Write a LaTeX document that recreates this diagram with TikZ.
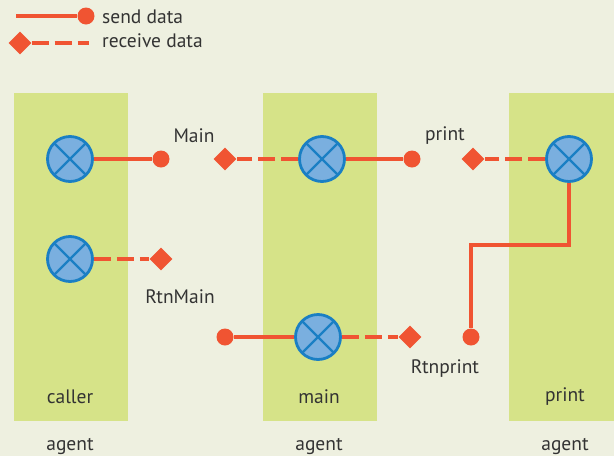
\documentclass[tikz,border=0pt]{standalone}
\usepackage{fontspec}
\setmainfont{PT Sans}
\usetikzlibrary{shapes.geometric}
\definecolor{bg}{HTML}{EEF0E0}
\definecolor{band}{HTML}{D6E388}
\definecolor{wire}{HTML}{F05432}
\definecolor{ballfill}{HTML}{7AAFDF}
\definecolor{ballline}{HTML}{1A7FC4}
\definecolor{ink}{HTML}{333333}
\tikzset{
  x=1pt, y=-1pt,
  lbl/.style={text=ink, font=\fontsize{19.5}{21}\selectfont, inner sep=0pt},
  ball/.style={circle, draw=ballline, fill=ballfill, line width=2.8pt, minimum size=45pt, inner sep=0pt,
    path picture={
      \draw[ballline, line width=2.4pt]
        (path picture bounding box.south west) -- (path picture bounding box.north east)
        (path picture bounding box.north west) -- (path picture bounding box.south east);}},
  dot/.style={circle, fill=wire, minimum size=17pt, inner sep=0pt},
  gem/.style={diamond, fill=wire, minimum size=23pt, inner sep=0pt},
  send/.style={draw=wire, line width=4pt},
  recv/.style={draw=wire, line width=4pt, dash pattern=on 17pt off 6pt},
}
\begin{document}
\begin{tikzpicture}
  \fill[bg] (0,0) rectangle (614,456);
  \useasboundingbox (0,0) rectangle (614,456);
  % agent bands
  \fill[band] (14,93) rectangle (128,421);
  \fill[band] (263,93) rectangle (377,421);
  \fill[band] (509,93) rectangle (614,421);

  % legend
  \coordinate (ls) at (16,16);
  \node[dot] (ld) at (86,16) {};
  \draw[send] (ls) -- (ld);
  \node[lbl, anchor=west] (lt1) at (102,17) {send data};
  \node[gem] (lg) at (20,43) {};
  \coordinate (le) at (89,43);
  \draw[recv] (lg) -- (le);
  \node[lbl, anchor=west] (lt2) at (102,41) {receive data};

  % ports
  \node[ball] (c1) at (70,159) {};
  \node[ball] (c2) at (70,259) {};
  \node[ball] (m1) at (322,159) {};
  \node[ball] (m2) at (318,337) {};
  \node[ball] (p1) at (569,159) {};

  % send / receive ends
  \node[dot] (d1) at (161,159) {};
  \node[gem] (g1) at (225,159) {};
  \node[dot] (d2) at (412,159) {};
  \node[gem] (g2) at (473,159) {};
  \node[gem] (g3) at (161,259) {};
  \node[dot] (d3) at (225,337) {};
  \node[gem] (g4) at (410,337) {};
  \node[dot] (d4) at (471,337) {};
  \coordinate (bend) at (471,245);

  % connectors
  \draw[send] (c1) -- (d1);
  \draw[recv] (m1) -- (g1);
  \draw[send] (m1) -- (d2);
  \draw[recv] (p1) -- (g2);
  \draw[recv] (c2) -- (g3);
  \draw[send] (d3) -- (m2);
  \draw[recv] (m2) -- (g4);
  \draw[send, line join=miter] (p1) |- (bend) -- (d4);

  % message labels
  \node[lbl] (tmain) at (194,136) {Main};
  \node[lbl] (tprint) at (445,136) {print};
  \node[lbl] (trm) at (180,297) {RtnMain};
  \node[lbl] (trp) at (445,369) {Rtnprint};

  % band titles
  \node[lbl] (bc) at (70,397) {caller};
  \node[lbl] (bm) at (319,397) {main};
  \node[lbl] (bp) at (565,397) {print};
  \node[lbl] (a1) at (70,446) {agent};
  \node[lbl] (a2) at (319,446) {agent};
  \node[lbl] (a3) at (565,446) {agent};
\end{tikzpicture}
\end{document}
